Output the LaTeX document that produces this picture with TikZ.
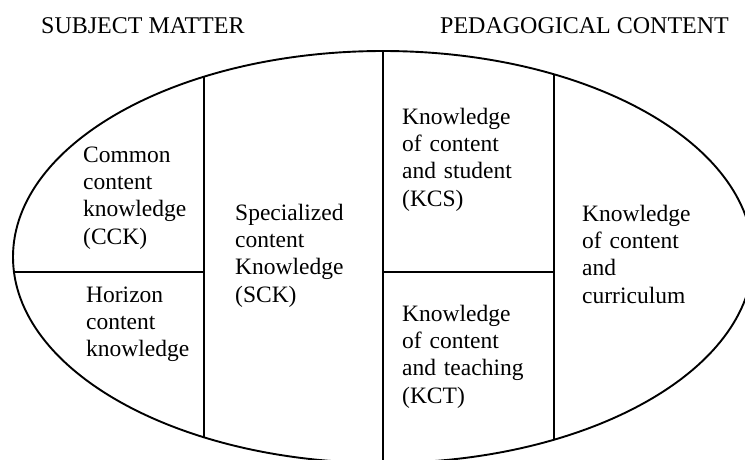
\documentclass[tikz,border=0pt]{standalone}
\usepackage{fontspec}
\setmainfont{Liberation Serif}
\begin{document}
\begin{tikzpicture}[x=1pt,y=-1pt,
  lbl/.style={anchor=base west,inner sep=0pt,align=left,text width=170pt,
    font=\fontsize{23.5}{27.4}\selectfont},
  ttl/.style={anchor=base west,inner sep=0pt,font=\fontsize{24}{28}\selectfont},
  edge/.style={line width=1.9pt,black}]
\useasboundingbox (0,0) rectangle (745,459);
\begin{scope}
  \clip (0,0) rectangle (745,459);
  \draw[edge] (383,257) ellipse [x radius=370, y radius=206];
  \begin{scope}
    \clip (383,257) ellipse [x radius=370, y radius=206];
    \draw[edge] (204,0) -- (204,500);
    \draw[edge] (383,0) -- (383,500);
    \draw[edge] (554,0) -- (554,500);
    \draw[edge] (0,272) -- (204,272);
    \draw[edge] (383,272) -- (554,272);
  \end{scope}
\end{scope}
\node[ttl] (sm) at (41,33) {SUBJECT MATTER};
\node[ttl] (pc) at (440,33) {PEDAGOGICAL CONTENT};
\node[lbl] (cck) at (83,162) {Common\\content\\knowledge\\(CCK)};
\node[lbl] (hck) at (86,302) {Horizon\\content\\knowledge};
\node[lbl] (sck) at (235,220) {Specialized\\content\\Knowledge\\(SCK)};
\node[lbl] (kcs) at (402,124) {Knowledge\\of content\\and student\\(KCS)};
\node[lbl] (kct) at (402,321) {Knowledge\\of content\\and teaching\\(KCT)};
\node[lbl] (kcc) at (582,221) {Knowledge\\of content\\and\\curriculum};
\end{tikzpicture}
\end{document}
